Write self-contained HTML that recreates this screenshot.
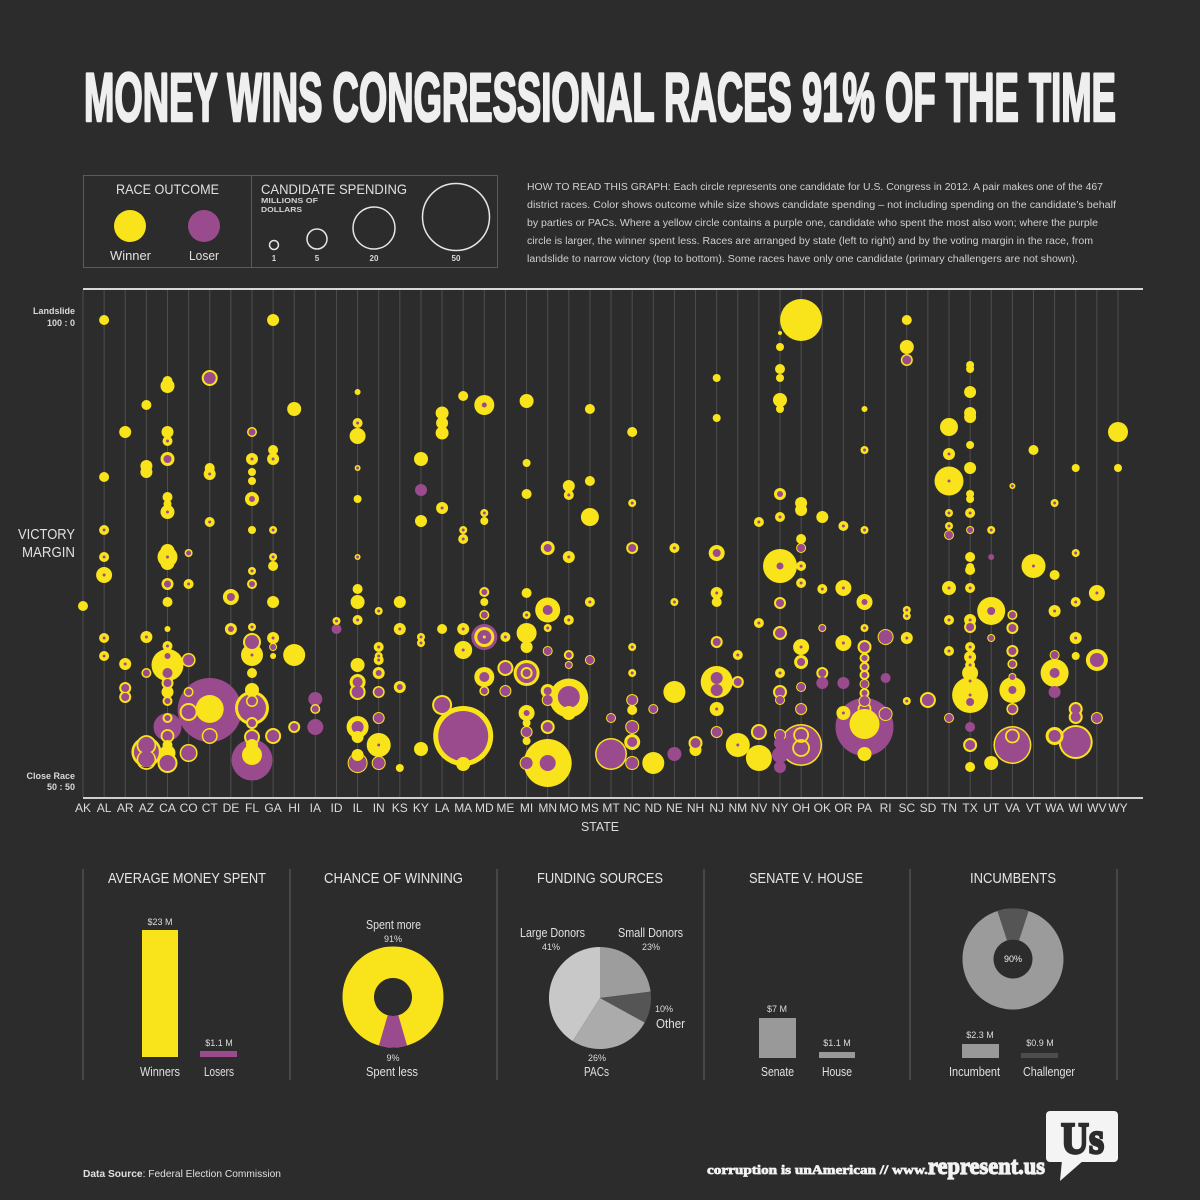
<!DOCTYPE html>
<html><head><meta charset="utf-8">
<style>
html,body{margin:0;padding:0;background:#2c2c2c;}
svg{display:block;}
.c{font-family:"Liberation Sans Narrow","Liberation Sans",sans-serif;}
.s{font-family:"Liberation Sans",sans-serif;}
</style></head>
<body>
<svg id="svg" width="1200" height="1200" viewBox="0 0 1200 1200" xmlns="http://www.w3.org/2000/svg">
<rect width="1200" height="1200" fill="#2c2c2c"/>
<!-- Title -->
<text class="c" x="84" y="121" font-size="69" font-weight="bold" fill="#efefef" stroke="#efefef" stroke-width="2.6" stroke-linejoin="round" textLength="1032" lengthAdjust="spacingAndGlyphs">MONEY WINS CONGRESSIONAL RACES 91% OF THE TIME</text>

<!-- Legend -->
<rect x="83.5" y="175.5" width="414" height="92" fill="none" stroke="#5a5a5a" stroke-width="1"/>
<line x1="251.5" y1="176" x2="251.5" y2="267" stroke="#5a5a5a" stroke-width="1"/>
<text class="c" x="116" y="194" font-size="14" fill="#e0e0e0" textLength="103" lengthAdjust="spacingAndGlyphs">RACE OUTCOME</text>
<circle cx="130" cy="226" r="16" fill="#f9e31a"/>
<circle cx="204" cy="226" r="16" fill="#9a4b8d"/>
<text class="c" x="110" y="260" font-size="13" fill="#e0e0e0" textLength="41" lengthAdjust="spacingAndGlyphs">Winner</text>
<text class="c" x="189" y="260" font-size="13" fill="#e0e0e0" textLength="30" lengthAdjust="spacingAndGlyphs">Loser</text>
<text class="c" x="261" y="194" font-size="14" fill="#e0e0e0" textLength="146" lengthAdjust="spacingAndGlyphs">CANDIDATE SPENDING</text>
<text class="s" x="261" y="203" font-size="7.5" font-weight="bold" fill="#d0d0d0" textLength="57" lengthAdjust="spacingAndGlyphs">MILLIONS OF</text>
<text class="s" x="261" y="212" font-size="7.5" font-weight="bold" fill="#d0d0d0" textLength="41" lengthAdjust="spacingAndGlyphs">DOLLARS</text>
<g fill="none" stroke="#e6e6e6" stroke-width="1.5">
<circle cx="274" cy="245" r="4.5"/>
<circle cx="317" cy="239" r="10"/>
<circle cx="374" cy="228" r="21"/>
<circle cx="456" cy="217" r="33.5"/>
</g>
<g class="s" font-size="8" font-weight="bold" fill="#d8d8d8" text-anchor="middle">
<text x="274" y="261">1</text><text x="317" y="261">5</text><text x="374" y="261">20</text><text x="456" y="261">50</text>
</g>

<!-- Explanation -->
<g class="s" font-size="10" fill="#cfcfcf">
<text x="527" y="190" textLength="576" lengthAdjust="spacingAndGlyphs">HOW TO READ THIS GRAPH: Each circle represents one candidate for U.S. Congress in 2012. A pair makes one of the 467</text>
<text x="527" y="208" textLength="589" lengthAdjust="spacingAndGlyphs">district races. Color shows outcome while size shows candidate spending – not including spending on the candidate’s behalf</text>
<text x="527" y="226" textLength="571" lengthAdjust="spacingAndGlyphs">by parties or PACs. Where a yellow circle contains a purple one, candidate who spent the most also won; where the purple</text>
<text x="527" y="244" textLength="566" lengthAdjust="spacingAndGlyphs">circle is larger, the winner spent less. Races are arranged by state (left to right) and by the voting margin in the race, from</text>
<text x="527" y="262" textLength="551" lengthAdjust="spacingAndGlyphs">landslide to narrow victory (top to bottom). Some races have only one candidate (primary challengers are not shown).</text>
</g>

<!-- Chart frame -->
<g id="grid"></g>
<line x1="83" y1="289" x2="1143" y2="289" stroke="#d8d8d8" stroke-width="2"/>
<line x1="83" y1="798" x2="1143" y2="798" stroke="#cfcfcf" stroke-width="2"/>
<g id="circ"></g>

<!-- Y axis labels -->
<g class="s" font-size="9" font-weight="bold" fill="#d8d8d8" text-anchor="end">
<text x="75" y="314">Landslide</text>
<text x="75" y="326">100 : 0</text>
<text x="75" y="779">Close Race</text>
<text x="75" y="790">50 : 50</text>
</g>
<text class="c" x="18" y="539" font-size="15" fill="#e0e0e0" textLength="57" lengthAdjust="spacingAndGlyphs">VICTORY</text>
<text class="c" x="22" y="557" font-size="15" fill="#e0e0e0" textLength="53" lengthAdjust="spacingAndGlyphs">MARGIN</text>

<!-- State labels -->
<g class="c" font-size="12" fill="#dcdcdc" text-anchor="middle">
<text x="83.0" y="812">AK</text><text x="104.1" y="812">AL</text><text x="125.2" y="812">AR</text><text x="146.4" y="812">AZ</text><text x="167.5" y="812">CA</text>
<text x="188.6" y="812">CO</text><text x="209.7" y="812">CT</text><text x="230.9" y="812">DE</text><text x="252.0" y="812">FL</text><text x="273.1" y="812">GA</text>
<text x="294.2" y="812">HI</text><text x="315.3" y="812">IA</text><text x="336.5" y="812">ID</text><text x="357.6" y="812">IL</text><text x="378.7" y="812">IN</text>
<text x="399.8" y="812">KS</text><text x="420.9" y="812">KY</text><text x="442.1" y="812">LA</text><text x="463.2" y="812">MA</text><text x="484.3" y="812">MD</text>
<text x="505.4" y="812">ME</text><text x="526.6" y="812">MI</text><text x="547.7" y="812">MN</text><text x="568.8" y="812">MO</text><text x="589.9" y="812">MS</text>
<text x="611.1" y="812">MT</text><text x="632.2" y="812">NC</text><text x="653.3" y="812">ND</text><text x="674.4" y="812">NE</text><text x="695.5" y="812">NH</text>
<text x="716.7" y="812">NJ</text><text x="737.8" y="812">NM</text><text x="758.9" y="812">NV</text><text x="780.0" y="812">NY</text><text x="801.1" y="812">OH</text>
<text x="822.3" y="812">OK</text><text x="843.4" y="812">OR</text><text x="864.5" y="812">PA</text><text x="885.6" y="812">RI</text><text x="906.8" y="812">SC</text>
<text x="927.9" y="812">SD</text><text x="949.0" y="812">TN</text><text x="970.1" y="812">TX</text><text x="991.2" y="812">UT</text><text x="1012.4" y="812">VA</text>
<text x="1033.5" y="812">VT</text><text x="1054.6" y="812">WA</text><text x="1075.7" y="812">WI</text><text x="1096.8" y="812">WV</text><text x="1118.0" y="812">WY</text>
</g>
<text class="c" x="581" y="831" font-size="13" fill="#dcdcdc" textLength="38" lengthAdjust="spacingAndGlyphs">STATE</text>

<!-- Bottom panels -->
<g stroke="#505050" stroke-width="1.5">
<line x1="83" y1="869" x2="83" y2="1080"/>
<line x1="290" y1="869" x2="290" y2="1080"/>
<line x1="497" y1="869" x2="497" y2="1080"/>
<line x1="704" y1="869" x2="704" y2="1080"/>
<line x1="910" y1="869" x2="910" y2="1080"/>
<line x1="1117" y1="869" x2="1117" y2="1080"/>
</g>
<g class="c" font-size="15" fill="#e6e6e6">
<text x="108" y="883" textLength="158" lengthAdjust="spacingAndGlyphs">AVERAGE MONEY SPENT</text>
<text x="324" y="883" textLength="139" lengthAdjust="spacingAndGlyphs">CHANCE OF WINNING</text>
<text x="537" y="883" textLength="126" lengthAdjust="spacingAndGlyphs">FUNDING SOURCES</text>
<text x="749" y="883" textLength="114" lengthAdjust="spacingAndGlyphs">SENATE V. HOUSE</text>
<text x="970" y="883" textLength="86" lengthAdjust="spacingAndGlyphs">INCUMBENTS</text>
</g>

<!-- Panel 1 -->
<rect x="142" y="930" width="36" height="127" fill="#f9e31a"/>
<rect x="200" y="1051" width="37" height="6" fill="#9a4b8d"/>
<g class="s" font-size="9" fill="#dcdcdc" text-anchor="middle">
<text x="160" y="925">$23 M</text>
<text x="219" y="1046">$1.1 M</text>
</g>
<g class="c" font-size="13" fill="#e0e0e0">
<text x="140" y="1076" textLength="40" lengthAdjust="spacingAndGlyphs">Winners</text>
<text x="204" y="1076" textLength="30" lengthAdjust="spacingAndGlyphs">Losers</text>
</g>

<!-- Panel 2 donut -->
<path d="M393,946.5 A50.5,50.5 0 1 1 392.99,946.5 Z M393,978 A19,19 0 1 0 393.01,978 Z" fill="#f9e31a" fill-rule="evenodd"/>
<path d="M407.1,1045.5 A50.5,50.5 0 0 1 378.9,1045.5 L387.7,1015.2 A19,19 0 0 0 398.3,1015.2 Z" fill="#9a4b8d"/>
<g class="s" font-size="9" fill="#dcdcdc" text-anchor="middle">
<text x="393" y="942">91%</text>
<text x="393" y="1061">9%</text>
</g>
<g class="c" font-size="13" fill="#e0e0e0">
<text x="366" y="929" textLength="55" lengthAdjust="spacingAndGlyphs">Spent more</text>
<text x="366" y="1076" textLength="52" lengthAdjust="spacingAndGlyphs">Spent less</text>
</g>

<!-- Panel 3 pie -->
<path d="M600,998 L600,947 A51,51 0 0 1 650.6,991.6 Z" fill="#9d9d9d"/>
<path d="M600,998 L650.6,991.6 A51,51 0 0 1 644.7,1022.6 Z" fill="#555555"/>
<path d="M600,998 L644.7,1022.6 A51,51 0 0 1 572.7,1041.1 Z" fill="#ababab"/>
<path d="M600,998 L572.7,1041.1 A51,51 0 0 1 600,947 Z" fill="#c8c8c8"/>
<g class="c" font-size="13" fill="#e0e0e0">
<text x="520" y="937" textLength="65" lengthAdjust="spacingAndGlyphs">Large Donors</text>
<text x="618" y="937" textLength="65" lengthAdjust="spacingAndGlyphs">Small Donors</text>
<text x="656" y="1028" textLength="29" lengthAdjust="spacingAndGlyphs">Other</text>
<text x="584" y="1076" textLength="25" lengthAdjust="spacingAndGlyphs">PACs</text>
</g>
<g class="s" font-size="9" fill="#dcdcdc" text-anchor="middle">
<text x="551" y="950">41%</text>
<text x="651" y="950">23%</text>
<text x="664" y="1012">10%</text>
<text x="597" y="1061">26%</text>
</g>

<!-- Panel 4 -->
<rect x="759" y="1018" width="37" height="40" fill="#999999"/>
<rect x="819" y="1052" width="36" height="6" fill="#999999"/>
<g class="s" font-size="9" fill="#dcdcdc" text-anchor="middle">
<text x="777" y="1012">$7 M</text>
<text x="837" y="1046">$1.1 M</text>
</g>
<g class="c" font-size="13" fill="#e0e0e0">
<text x="761" y="1076" textLength="33" lengthAdjust="spacingAndGlyphs">Senate</text>
<text x="822" y="1076" textLength="30" lengthAdjust="spacingAndGlyphs">House</text>
</g>

<!-- Panel 5 -->
<path d="M1013,908.5 A50.5,50.5 0 1 1 1012.99,908.5 Z M1013,939.5 A19.5,19.5 0 1 0 1013.01,939.5 Z" fill="#9b9b9b" fill-rule="evenodd"/>
<path d="M997.4,911 A50.5,50.5 0 0 1 1028.6,911 L1019,940.5 A19.5,19.5 0 0 0 1007,940.5 Z" fill="#555555"/>
<text class="s" x="1013" y="962" font-size="9" fill="#f0f0f0" text-anchor="middle">90%</text>
<rect x="962" y="1044" width="37" height="14" fill="#999999"/>
<rect x="1021" y="1053" width="37" height="5" fill="#4d4d4d"/>
<g class="s" font-size="9" fill="#dcdcdc" text-anchor="middle">
<text x="980" y="1038">$2.3 M</text>
<text x="1040" y="1046">$0.9 M</text>
</g>
<g class="c" font-size="13" fill="#e0e0e0">
<text x="949" y="1076" textLength="51" lengthAdjust="spacingAndGlyphs">Incumbent</text>
<text x="1023" y="1076" textLength="52" lengthAdjust="spacingAndGlyphs">Challenger</text>
</g>

<!-- Footer -->
<text class="s" x="83" y="1177" font-size="10.5" fill="#e0e0e0" textLength="198" lengthAdjust="spacingAndGlyphs"><tspan font-weight="bold">Data Source</tspan>: Federal Election Commission</text>
<text x="707" y="1174" font-family="Liberation Serif, serif" font-weight="bold" font-size="13" fill="#f2f2f2" stroke="#f2f2f2" stroke-width="0.7" textLength="221" lengthAdjust="spacingAndGlyphs">corruption is unAmerican // www.</text>
<text x="928" y="1174" font-family="Liberation Serif, serif" font-weight="bold" font-size="24" fill="#f2f2f2" stroke="#f2f2f2" stroke-width="1.2" textLength="117" lengthAdjust="spacingAndGlyphs">represent.us</text>
<rect x="1046" y="1111" width="72" height="51" rx="4" fill="#f4f4f4"/>
<polygon points="1062,1160 1060,1181 1084,1160" fill="#f4f4f4"/>
<text x="1061" y="1153" font-family="Liberation Serif, serif" font-weight="bold" font-size="44" fill="#2c2c2c" stroke="#2c2c2c" stroke-width="2.5" textLength="43" lengthAdjust="spacingAndGlyphs">Us</text>
</svg>
<script>
(function(){
var NS="http://www.w3.org/2000/svg";
var Y="#f9e31a",P="#9a4b8d";
var D=[
[[606,5,0]],
[[320,5,0],[477,5,0],[530,5,1.5],[557,5,1.5],[575,8,1.5],[638,5,1.5],[656,5,1.5]],
[[432,6,0],[664,6,1.5],[688,6,4],[697,6,4]],
[[405,5,0],[466,6,0],[472,6,0],[637,6,1.5],[673,5,3.5],[752,15,12.5],[745,-9],[760,-9],[745,0,8],[759,0,8]],
[[381,5,0],[386,7,0],[432,6,0],[441,5,1.5],[459,7,4],[497,5,0],[504,4,0],[512,7,1.5],[551,7,0],[557,10,1.5],[563,7,0],[584,6,3.5],[602,5,0],[629,3,0],[646,5,1.5],[656,5,3],[665,16,0],[665,-5],[673,0,5],[683,6,4],[692,6,0],[701,5,3],[718,5,3],[727,0,14],[736,-6],[745,5,0],[753,8,0],[763,10,8]],
[[553,4,2.5],[584,5,1.5],[660,7,5.5],[692,5,3.5],[712,9,7],[753,9,7.5]],
[[378,8,6],[468,5,0],[474,6,1.5],[522,5,1.5],[710,0,32],[709,14,0],[736,8,6.5]],
[[597,8,4],[629,6,3]],
[[432,5,3.5],[459,6,1.5],[472,4,0],[481,4,0],[499,7,3],[530,4,0],[571,4,1.5],[584,5,3],[627,4,1.5],[642,9,7],[655,11,1.5],[673,5,0],[690,7,0],[701,6,4.5],[708,17,14],[723,6,4],[737,8,6],[745,6,0],[760,0,20.5],[755,10,0]],
[[320,6,0],[450,5,0],[459,6,1.5],[530,4,1.5],[557,4,1.5],[566,5,0],[602,6,0],[638,6,1.5],[647,4,3],[656,3,0],[736,8,6]],
[[409,7,0],[655,11,0],[727,6,4]],
[[699,0,7],[709,5,3.5],[727,0,8]],
[[621,4,1.5],[629,0,5]],
[[392,3,0],[423,5,1.5],[436,8,0],[468,3,1.5],[499,4,0],[557,3,1.5],[589,5,0],[602,7,0],[620,5,1.5],[665,7,0],[682,8,5],[692,8,6],[727,11,6],[737,6,0],[763,10,9],[755,6,0]],
[[611,4,1.5],[647,5,1.5],[656,4,1.5],[660,5,1.5],[673,6,3],[692,6,4.5],[718,6,5],[745,12,1.5],[763,7,6]],
[[602,6,0],[629,6,1.5],[687,6,3],[768,4,0]],
[[459,7,0],[490,0,6],[521,6,0],[637,4,1.5],[643,4,1.5],[749,7,0]],
[[413,6.5,0],[423,6,0],[433,6.5,0],[508,6,1.5],[629,5,0],[705,10,8]],
[[396,5,0],[530,4,1.5],[539,5,1.5],[629,6,1.5],[650,9,1.5],[736,30,25],[764,7,0]],
[[405,10,2.5],[513,4,1.5],[521,4,0],[592,5,3],[602,4,0],[615,5,3.5],[637,10,7],[637,0,13],[637,1.5,0],[677,10,5],[691,5,3.5]],
[[637,5,1.5],[668,8,6],[691,6,5]],
[[401,7,0],[463,4,0],[494,5,0],[593,5,0],[615,4,1.5],[633,10,0],[647,6,0],[673,13,10],[673,6,4],[713,8,3],[723,4,0],[732,6,5],[741,4,0],[763,7,6]],
[[548,7,4],[610,12.5,5],[628,4,1.5],[651,5,4],[691,7,4],[700,6,5],[727,7,5],[763,24,8]],
[[486,6,0],[495,5,1.5],[557,6,1.5],[620,5,1.5],[655,5,3],[665,4,3],[698,19.5,0],[697,0,11],[713,7,0]],
[[409,5,0],[481,5,0],[517,9,0],[602,5,1.5],[660,5,4]],
[[718,5,4],[754,16,14.5]],
[[432,5,0],[503,4,1.5],[548,6,4],[647,4,1.5],[673,4,1.5],[700,6,5],[710,5,0],[727,7,6],[742,8,5],[763,7,6]],
[[709,5,4],[763,11,0]],
[[548,5,1.5],[602,4,1.5],[692,11,0],[754,0,7]],
[[743,7,5],[750,6,0]],
[[378,4,0],[418,4,0],[553,8,4],[593,6,1.5],[602,5,0],[642,6,4],[682,16,0],[678,0,6],[690,0,6],[709,7,1.5],[732,6,5]],
[[655,5,1.5],[682,6,4],[745,12,1.5]],
[[522,5,1.5],[623,5,1.5],[732,8,6],[758,13,0]],
[[333,2,0],[347,4,0],[369,5,0],[378,4,0],[400,7,0],[409,4,0],[494,6,3],[517,5,1.5],[566,17,3.5],[603,6,4],[633,7,5],[673,5,1.5],[692,7,5],[700,5,4],[735,6,5],[743,0,6],[755,0,8],[767,0,6]],
[[320,21,0],[503,6,0],[510,6,0],[539,5,0],[548,5,4],[566,5,1.5],[583,5,1.5],[647,8,1.5],[662,7,4],[687,5,4],[709,6,5],[745,21,19.5],[735,-7],[748,-8]],
[[517,6,0],[589,5,1.5],[628,4,3],[673,6,4],[683,0,6]],
[[526,5,1.5],[588,8,1.5],[643,8,1.5],[683,0,6],[713,7,1.5]],
[[409,3,0],[450,4,1.5],[530,4,1.5],[602,8,3],[628,4,1.5],[647,7,5],[658,5,3],[667,5,3],[675,5,3],[684,5,4],[693,5,3],[701,6,5],[709,-6],[727,0,29],[724,15,0],[754,7,0]],
[[637,8,7],[678,0,5],[714,7,6]],
[[320,5,0],[347,7,0],[360,6,4.5],[610,4,1.5],[616,4,1.5],[638,6,1.5],[701,4,1.5]],
[[700,8,6]],
[[427,9,0],[454,6,1.5],[481,14.5,1.5],[513,4,1.5],[526,4,1.5],[535,5,4],[588,7,1.5],[620,5,1.5],[651,5,1.5],[718,5,4]],
[[365,4,0],[369,4,0],[392,6,0],[413,6,0],[417,6,0],[445,4,0],[468,6,0],[494,4,0],[499,4,0],[513,5,1.5],[530,4,3],[557,5,0],[567,4,0],[570,5,0],[588,5,1.5],[620,6,1.5],[627,6,4],[647,5,1.5],[657,6,1.5],[665,5,1.5],[673,8,0],[681,5,1.5],[695,18,1.5],[702,0,4],[727,0,5],[745,7,5],[767,5,0]],
[[530,4,1.5],[557,0,3],[611,14,4],[638,4,3],[763,7,0]],
[[486,3,1.5],[615,5,3.5],[628,6,4],[651,6,4],[664,5,3.5],[677,4,3],[690,13,4],[709,6,4.5],[745,19,17.5],[736,-6.5]],
[[450,5,0],[566,12,1.5]],
[[503,4,1.5],[575,5,0],[611,6,1.5],[655,5,4],[673,14,5],[692,0,6],[736,9,6]],
[[468,4,0],[553,4,1.5],[602,5,1.5],[638,6,1.5],[656,4,0],[709,7,5],[717,7,5],[742,17,15]],
[[593,8,1.5],[660,11,7],[718,6,5]],
[[432,10,0],[468,4,0]]
];
var grid=document.getElementById("grid"),g=document.getElementById("circ");
var cs=[];
for(var i=0;i<D.length;i++){
  var x=83+i*21.122;
  var l=document.createElementNS(NS,"line");
  l.setAttribute("x1",x);l.setAttribute("x2",x);l.setAttribute("y1",290);l.setAttribute("y2",797);
  l.setAttribute("stroke","#4e4e4e");l.setAttribute("stroke-width","1");
  grid.appendChild(l);
  D[i].forEach(function(e){
    var y=e[0],a=e[1],b=e[2]||0;
    if(a<0){cs.push({x:x,y:y,r:-a,t:"ring"});}
    else{
      if(a>0)cs.push({x:x,y:y,r:a,t:"y"});
      if(b>0)cs.push({x:x,y:y,r:b,t:"p"});
    }
  });
}
cs.sort(function(p,q){return q.r-p.r;});
cs.forEach(function(c){
  var el=document.createElementNS(NS,"circle");
  el.setAttribute("cx",c.x.toFixed(1));el.setAttribute("cy",c.y);el.setAttribute("r",c.r);
  if(c.t==="ring"){el.setAttribute("fill","none");el.setAttribute("stroke",Y);el.setAttribute("stroke-width","1.8");}
  else el.setAttribute("fill",c.t==="y"?Y:P);
  g.appendChild(el);
});
})();
</script>
</body></html>
